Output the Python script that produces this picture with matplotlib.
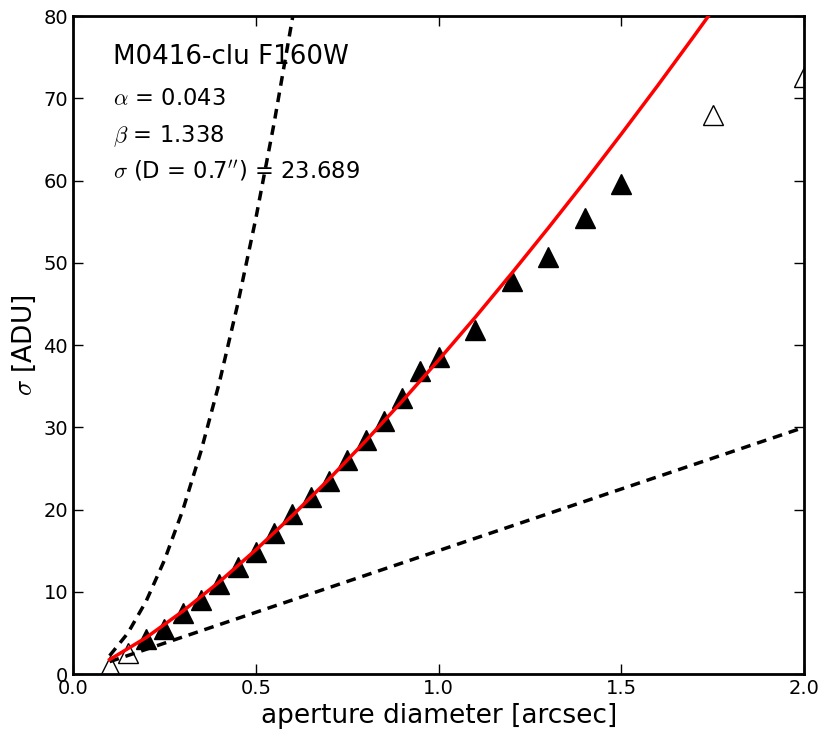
import matplotlib
matplotlib.use("Agg")
import matplotlib.pyplot as plt

# measured noise points (filled = used in fit, open = excluded)
d_fit = [0.2, 0.25, 0.3, 0.35, 0.4, 0.45, 0.5, 0.55, 0.6, 0.65, 0.7, 0.75,
         0.8, 0.85, 0.9, 0.95, 1.0, 1.1, 1.2, 1.3, 1.4, 1.5]
sig_fit = [4.2, 5.5, 7.4, 9.0, 11.0, 13.0, 14.8, 17.2, 19.5, 21.5, 23.5, 26.0,
           28.5, 30.8, 33.5, 36.8, 38.5, 41.8, 47.8, 50.7, 55.4, 59.6]
d_out = [0.1, 0.15, 1.75, 2.0]
sig_out = [1.0, 2.5, 68.0, 72.6]

# fitted curve
d_curve = [0.1, 0.2, 0.3, 0.4, 0.5, 0.6, 0.7, 0.8, 0.9, 1.0, 1.1, 1.2,
           1.3, 1.4, 1.5, 1.6, 1.7, 1.8]
sig_curve = [1.75, 4.43, 7.63, 11.2, 15.1, 19.27, 23.69, 28.32, 33.16, 38.18,
             43.37, 48.73, 54.24, 59.88, 65.68, 71.6, 77.66, 83.83]

# reference lines (N^2 and N scaling)
d_sq = [0.1, 0.15, 0.2, 0.25, 0.3, 0.35, 0.4, 0.45, 0.5, 0.55, 0.6, 0.65]
sig_sq = [2.22, 4.98, 8.86, 13.84, 19.9, 27.1, 35.4, 44.9, 55.4, 67.0, 79.7, 93.6]
d_lin = [0.1, 2.0]
sig_lin = [1.5, 30.0]

plt.rcParams['mathtext.fontset'] = 'cm'
plt.rcParams['xtick.direction'] = 'in'
plt.rcParams['ytick.direction'] = 'in'
plt.rcParams['xtick.top'] = True
plt.rcParams['ytick.right'] = True
plt.rcParams['lines.scale_dashes'] = False

fig = plt.figure(figsize=(8.3, 7.46), dpi=100)
ax = fig.add_axes([0.088, 0.0965, 0.881, 0.882])

ax.plot(d_fit, sig_fit, '^', color='k', ms=14, mec='k', mew=1, zorder=2)
ax.plot(d_out, sig_out, '^', mfc='white', mec='k', ms=14, mew=1, zorder=2)
ax.plot(d_sq, sig_sq, 'k', ls=(0, (7, 5)), lw=2.5, zorder=3)
ax.plot(d_lin, sig_lin, 'k', ls=(0, (7, 5)), lw=2.5, zorder=3)
ax.plot(d_curve, sig_curve, 'r-', lw=2.5, zorder=4)

ax.set_xlim(0, 2.0)
ax.set_ylim(0, 80)
ax.set_xticks([0.0, 0.5, 1.0, 1.5, 2.0])
ax.set_yticks(range(0, 81, 10))
ax.tick_params(labelsize=14, length=7, width=1)
for s in ax.spines.values():
    s.set_linewidth(2)

ax.set_xlabel('aperture diameter [arcsec]', fontsize=19)
ax.set_ylabel(r'$\sigma$ [ADU]', fontsize=19)

ax.text(0.055, 0.938, 'M0416-clu F160W', transform=ax.transAxes,
        fontsize=18.8, va='center')
ax.text(0.055, 0.874, r'$\alpha$ = 0.043', transform=ax.transAxes,
        fontsize=16.3, va='center')
ax.text(0.055, 0.818, r'$\beta$ = 1.338', transform=ax.transAxes,
        fontsize=16.3, va='center')
ax.text(0.055, 0.764, r'$\sigma$ (D = 0.7$^{\prime\prime}$) = 23.689',
        transform=ax.transAxes, fontsize=16.3, va='center')

fig.savefig("out.png", dpi=100)
